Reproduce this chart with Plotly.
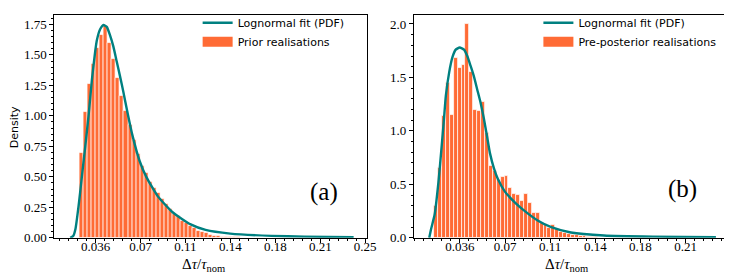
import plotly.graph_objects as go

# ---------------- data ----------------
tick_vals = [0.25 * k / 7 for k in range(1, 8)]
tick_text = ["0.036", "0.07", "0.11", "0.14", "0.18", "0.21", "0.25"]

prior_bin_start = 0.02297
prior_bin_width = 0.003203
prior_density = [0.70, 1.03, 1.26, 1.43, 1.56, 1.66, 1.74, 1.60, 1.47, 1.31,
                 1.16, 1.04, 0.93, 0.80, 0.69, 0.59, 0.53, 0.46, 0.41, 0.37,
                 0.32, 0.28, 0.24, 0.20, 0.18, 0.14, 0.12, 0.10, 0.08, 0.06,
                 0.05, 0.04, 0.025, 0.02, 0.015, 0.01, 0.008, 0.006, 0.005, 0.004,
                 0.003, 0.003, 0.002, 0.002, 0.0015, 0.001]

post_bin_start = 0.01542
post_bin_width = 0.003087
post_density = [0.30, 0.65, 1.14, 1.45, 1.15, 1.68, 1.59, 1.62, 2.00, 1.55,
                1.20, 1.19, 1.27, 0.98, 0.67, 0.63, 0.54, 0.57, 0.58, 0.47,
                0.41, 0.40, 0.35, 0.41, 0.33, 0.23, 0.23, 0.14, 0.13, 0.09,
                0.12, 0.08, 0.06, 0.05, 0.04, 0.03, 0.025, 0.02, 0.015, 0.01,
                0.008, 0.005, 0.004, 0.003]

prior_fit_x = [0.01554, 0.0179, 0.0197, 0.0224, 0.0250, 0.0275, 0.0302, 0.0328,
               0.0354, 0.0367, 0.0393, 0.0420, 0.0446, 0.0472, 0.0498, 0.0524,
               0.0550, 0.0577, 0.0610, 0.0650, 0.0707, 0.0760, 0.0852, 0.0969,
               0.1113, 0.1231, 0.1427, 0.1754, 0.2016, 0.2408]
prior_fit_y = [0.0, 0.015, 0.073, 0.28, 0.52, 0.75, 1.01, 1.30,
               1.53, 1.62, 1.71, 1.745, 1.73, 1.66, 1.57, 1.45,
               1.33, 1.20, 1.03, 0.84, 0.63, 0.50, 0.34, 0.21,
               0.11, 0.065, 0.035, 0.016, 0.010, 0.006]

post_fit_x = [0.01149, 0.01290, 0.01579, 0.01876, 0.02126, 0.02305, 0.02462,
              0.02728, 0.02985, 0.03243, 0.03556, 0.03900, 0.04157, 0.04415,
              0.04681, 0.04939, 0.05197, 0.05463, 0.05720, 0.05955, 0.06268,
              0.06580, 0.07150, 0.07932, 0.08714, 0.09761, 0.1080, 0.1236,
              0.1497, 0.1885, 0.2383]
post_fit_y = [0.0, 0.08, 0.22, 0.52, 0.85, 1.10, 1.33,
              1.55, 1.69, 1.76, 1.78, 1.76, 1.70, 1.61,
              1.51, 1.39, 1.27, 1.12, 0.95, 0.79, 0.65,
              0.55, 0.43, 0.33, 0.25, 0.16, 0.10, 0.05,
              0.022, 0.011, 0.006]

# ---------------- styling ----------------
W, H = 732, 275
ORANGE = "#FF6B35"
TEAL = "#008080"
SERIF = "Liberation Serif"
SANS = "DejaVu Sans"


def px_x(p):
    return p / W


def px_y(p):
    return 1 - p / H


prior_centers = [prior_bin_start + prior_bin_width * (i + 0.5) for i in range(len(prior_density))]
post_centers = [post_bin_start + post_bin_width * (i + 0.5) for i in range(len(post_density))]

fig = go.Figure()

# left panel
fig.add_trace(go.Bar(x=prior_centers, y=prior_density, width=prior_bin_width,
                     marker=dict(color=ORANGE, line=dict(color="white", width=0.7)),
                     xaxis="x", yaxis="y", showlegend=False, name="Prior realisations"))
fig.add_trace(go.Scatter(x=prior_fit_x, y=prior_fit_y, mode="lines",
                         line=dict(color=TEAL, width=2.4, shape="spline", smoothing=0.5),
                         xaxis="x", yaxis="y", name="Lognormal fit (PDF)",
                         legend="legend"))
fig.add_trace(go.Scatter(x=[None], y=[None], mode="lines",
                         line=dict(color=ORANGE, width=10),
                         xaxis="x", yaxis="y", name="Prior realisations",
                         legend="legend"))

# right panel
fig.add_trace(go.Bar(x=post_centers, y=post_density, width=post_bin_width,
                     marker=dict(color=ORANGE, line=dict(color="white", width=0.7)),
                     xaxis="x2", yaxis="y2", showlegend=False, name="Pre-posterior realisations"))
fig.add_trace(go.Scatter(x=post_fit_x, y=post_fit_y, mode="lines",
                         line=dict(color=TEAL, width=2.4, shape="spline", smoothing=0.5),
                         xaxis="x2", yaxis="y2", name="Lognormal fit (PDF)",
                         legend="legend2"))
fig.add_trace(go.Scatter(x=[None], y=[None], mode="lines",
                         line=dict(color=ORANGE, width=10),
                         xaxis="x2", yaxis="y2", name="Pre-posterior realisations",
                         legend="legend2"))

common_axis = dict(showline=True, linecolor="black", linewidth=1, mirror=True,
                   showgrid=False, zeroline=False, ticks="outside", ticklen=4,
                   tickwidth=1, tickcolor="black",
                   tickfont=dict(family=SERIF, size=13, color="black"))

xdom1 = [px_x(47), px_x(363.7)]
xdom2 = [px_x(411), px_x(729)]
ydom = [px_y(236), px_y(2)]

minor_x = dict(ticks="outside", ticklen=2, tickcolor="black",
               tick0=0, dtick=0.25 / 35, showgrid=False)

fig.update_layout(
    width=W, height=H,
    margin=dict(l=0, r=0, t=0, b=0),
    paper_bgcolor="white", plot_bgcolor="white",
    bargap=0,
    xaxis=dict(domain=xdom1, anchor="y", range=[0.00298, 0.2516],
               tickmode="array", tickvals=tick_vals, ticktext=tick_text,
               minor=minor_x, ticklabelstandoff=-7, **common_axis),
    yaxis=dict(domain=ydom, anchor="x", range=[0, 1.828],
               tickmode="array", tickvals=[0, 0.25, 0.5, 0.75, 1.0, 1.25, 1.5, 1.75],
               ticktext=["0.00", "0.25", "0.50", "0.75", "1.00", "1.25", "1.50", "1.75"],
               minor=dict(ticks="outside", ticklen=2, tickcolor="black",
                          tick0=0, dtick=0.05, showgrid=False),
               **common_axis),
    xaxis2=dict(domain=xdom2, anchor="y2", range=[-0.000625, 0.2479],
                tickmode="array", tickvals=tick_vals[:6], ticktext=tick_text[:6],
                minor=minor_x, ticklabelstandoff=-7, **common_axis),
    yaxis2=dict(domain=ydom, anchor="x2", range=[0, 2.085],
                tickmode="array", tickvals=[0, 0.5, 1.0, 1.5, 2.0],
                ticktext=["0.0", "0.5", "1.0", "1.5", "2.0"],
                minor=dict(ticks="outside", ticklen=2, tickcolor="black",
                           tick0=0, dtick=0.1, showgrid=False),
                **common_axis),
    legend=dict(x=px_x(192), y=px_y(-5), xanchor="left", yanchor="top",
                bgcolor="rgba(0,0,0,0)", borderwidth=0,
                font=dict(family=SANS, size=11, color="black"),
                tracegroupgap=0, itemwidth=30, traceorder="normal"),
    legend2=dict(x=px_x(537), y=px_y(-5), xanchor="left", yanchor="top",
                 bgcolor="rgba(0,0,0,0)", borderwidth=0,
                 font=dict(family=SANS, size=11, color="black"),
                 tracegroupgap=0, itemwidth=30, traceorder="normal"),
    annotations=[
        dict(text="(a)", x=px_x(320), y=px_y(188), xref="paper", yref="paper",
             xanchor="center", yanchor="middle",
             showarrow=False, font=dict(family=SERIF, size=25, color="black")),
        dict(text="(b)", x=px_x(683), y=px_y(185), xref="paper", yref="paper",
             xanchor="center", yanchor="middle",
             showarrow=False, font=dict(family=SERIF, size=25, color="black")),
        dict(text="Δ<i>τ</i>/<i>τ</i><sub>nom</sub>", x=px_x(198), y=px_y(264),
             xref="paper", yref="paper", xanchor="center", yanchor="middle",
             showarrow=False, font=dict(family=SERIF, size=15, color="black")),
        dict(text="Δ<i>τ</i>/<i>τ</i><sub>nom</sub>", x=px_x(565), y=px_y(264),
             xref="paper", yref="paper", xanchor="center", yanchor="middle",
             showarrow=False, font=dict(family=SERIF, size=15, color="black")),
        dict(text="Density", x=px_x(6), y=px_y(120), xref="paper", yref="paper",
             xanchor="center", yanchor="middle",
             showarrow=False, textangle=-90,
             font=dict(family=SANS, size=11, color="black")),
    ],
)

fig.write_html("out.html")
